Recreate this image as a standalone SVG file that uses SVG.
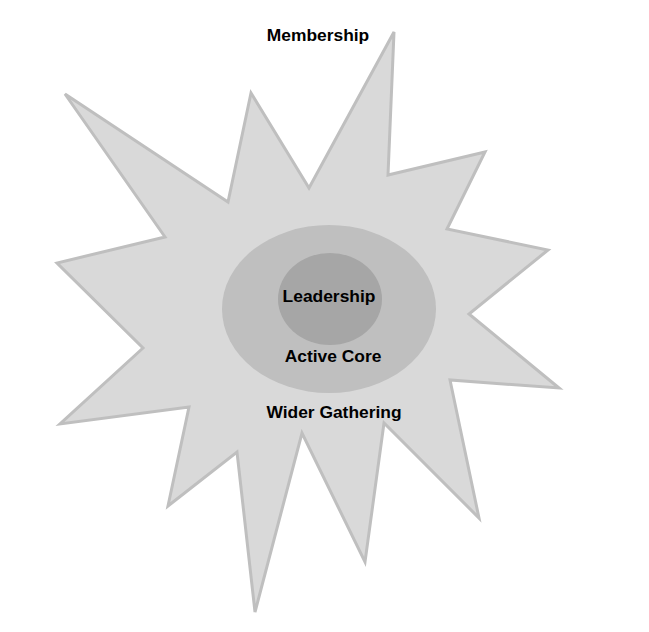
<svg xmlns="http://www.w3.org/2000/svg" width="649" height="632" viewBox="0 0 649 632">
<style>
.lbl{font-family:"Liberation Sans",Arial,sans-serif;font-weight:bold;font-size:17.4px;fill:#000;text-anchor:middle}
</style>
<rect width="649" height="632" fill="#fff"/>
<g id="wider-gathering">
<polygon points="394,32 388,175 485,152 447,229 548,250 469,314 559,388 450,380 479,518 384,423 365,562 302,433 255,612 237,452 168,506 189,407 60,424 143,348 57,263 165,237 65,94 228,202 251,93 309,188" fill="#d9d9d9" stroke="#bfbfbf" stroke-width="3" stroke-linejoin="miter"/>
</g>
<g id="active-core">
<ellipse cx="329" cy="309" rx="107" ry="84" fill="#bfbfbf"/>
</g>
<g id="leadership">
<ellipse cx="330" cy="299" rx="52" ry="46" fill="#a6a6a6"/>
</g>
<g id="connectors"></g>
<text class="lbl" x="318" y="41">Membership</text>
<text class="lbl" x="329" y="302">Leadership</text>
<text class="lbl" x="333" y="362">Active Core</text>
<text class="lbl" x="334" y="418">Wider Gathering</text>
</svg>
